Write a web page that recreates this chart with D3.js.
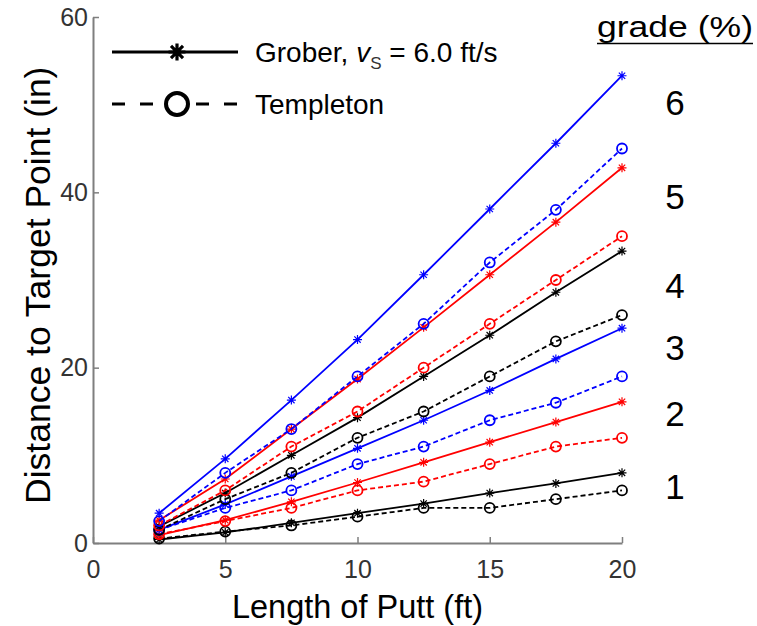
<!DOCTYPE html>
<html>
<head>
<meta charset="utf-8">
<script src="https://cdn.jsdelivr.net/npm/d3@7/dist/d3.min.js"></script>
<style>
  html, body { margin: 0; padding: 0; background: #fff; }
  svg { display: block; font-family: "Liberation Sans", Arial, sans-serif; }
</style>
</head>
<body>
<svg id="chart" width="757" height="626"></svg>
<script>
// Putt lengths (ft)
const puttLength = [2.5, 5, 7.5, 10, 12.5, 15, 17.5, 20];
const grades = [1, 2, 3, 4, 5, 6];

// Grober model, vs = 6.0 ft/s — distance to target point (in)
const grober1 = [0.4, 1.2, 2.3, 3.4, 4.5, 5.7, 6.8, 8.0];
const grober2 = [0.9, 2.6, 4.7, 6.9, 9.2, 11.5, 13.8, 16.1];
const grober3 = [1.5, 4.4, 7.6, 10.8, 14.0, 17.4, 21.0, 24.5];
const grober4 = [1.9, 5.7, 10.0, 14.3, 19.0, 23.7, 28.6, 33.3];
const grober5 = [2.6, 7.3, 13.0, 18.7, 24.6, 30.6, 36.6, 42.8];
const grober6 = [3.4, 9.6, 16.3, 23.2, 30.6, 38.1, 45.6, 53.3];

// Templeton table — distance to target point (in)
const templeton1 = [0.5, 1.3, 2, 3, 4, 4, 5, 6];
const templeton2 = [1, 2.5, 4, 6, 7, 9, 11, 12];
const templeton3 = [1.5, 4, 6, 9, 11, 14, 16, 19];
const templeton4 = [1.5, 5, 8, 12, 15, 19, 23, 26];
const templeton5 = [2, 6, 11, 15, 20, 25, 30, 35];
const templeton6 = [2.5, 8, 13, 19, 25, 32, 38, 45];

const gradeColors = ["#000000", "#ff0000", "#0000ff", "#000000", "#ff0000", "#0000ff"];

const xTicks = [0, 5, 10, 15, 20];
const yTicks = [0, 20, 40, 60];

const groberSeries = [grober1, grober2, grober3, grober4, grober5, grober6];
const templetonSeries = [templeton1, templeton2, templeton3, templeton4, templeton5, templeton6];

const svg = d3.select("#chart");
const margin = { left: 93, right: 135, top: 17, bottom: 83 };
const W = 757, H = 626;

const x = d3.scaleLinear().domain([0, 20]).range([margin.left, W - margin.right]);
const y = d3.scaleLinear().domain([0, 60]).range([H - margin.bottom, margin.top]);

const axisGray = "#7f7f7f";
const tickLen = 6;

// Axes: left and bottom only, ticks pointing inward
const xAxis = svg.append("g")
  .attr("transform", `translate(0,${y(0)})`)
  .call(d3.axisBottom(x).tickValues(xTicks).tickSizeInner(-tickLen).tickSizeOuter(0).tickPadding(17));
const yAxis = svg.append("g")
  .attr("transform", `translate(${x(0)},0)`)
  .call(d3.axisLeft(y).tickValues(yTicks).tickSizeInner(-tickLen).tickSizeOuter(0).tickPadding(5));

[xAxis, yAxis].forEach(g => {
  g.select(".domain").attr("stroke", axisGray).attr("stroke-width", 2);
  g.selectAll(".tick line").attr("stroke", axisGray).attr("stroke-width", 1.5);
  g.selectAll(".tick text")
    .attr("fill", "#333")
    .style("font-size", "25px")
    .style("font-family", "\"Liberation Sans\", Arial, sans-serif");
});
xAxis.selectAll(".tick text").attr("dy", "0.71em");

// Axis titles
svg.append("text")
  .attr("x", x(10))
  .attr("y", 618)
  .attr("text-anchor", "middle")
  .style("font-size", "32.5px")
  .text("Length of Putt (ft)");
svg.append("text")
  .attr("transform", `translate(50,${y(29.4)}) rotate(-90)`)
  .attr("text-anchor", "middle")
  .style("font-size", "35.5px")
  .text("Distance to Target Point (in)");

// Marker shapes
function starPath(r) {
  const d = r * Math.SQRT1_2;
  return `M${-r},0L${r},0M0,${-r}L0,${r}M${-d},${-d}L${d},${d}M${-d},${d}L${d},${-d}`;
}

const line = d3.line().x(d => x(d[0])).y(d => y(d[1]));
const plot = svg.append("g");

// Vertical level (in axis units) at which each grade number sits
const gradeLabelLevel = [6.4, 14.8, 22.3, 29.4, 39.5, 50.2];

grades.forEach((g, i) => {
  const color = gradeColors[i];
  const tPts = puttLength.map((p, j) => [p, templetonSeries[i][j]]);
  const gPts = puttLength.map((p, j) => [p, groberSeries[i][j]]);

  // Templeton: dashed with open circles
  plot.append("path")
    .attr("d", line(tPts))
    .attr("fill", "none")
    .attr("stroke", color)
    .attr("stroke-width", 1.8)
    .attr("stroke-dasharray", "5,3");
  plot.selectAll(null).data(tPts).enter().append("circle")
    .attr("cx", d => x(d[0]))
    .attr("cy", d => y(d[1]))
    .attr("r", 5)
    .attr("fill", "none")
    .attr("stroke", color)
    .attr("stroke-width", 1.8);

  // Grober: solid with asterisks
  plot.append("path")
    .attr("d", line(gPts))
    .attr("fill", "none")
    .attr("stroke", color)
    .attr("stroke-width", 1.8);
  plot.selectAll(null).data(gPts).enter().append("path")
    .attr("transform", d => `translate(${x(d[0])},${y(d[1])})`)
    .attr("d", starPath(4.5))
    .attr("fill", "none")
    .attr("stroke", color)
    .attr("stroke-width", 1.2);

  // Grade number beside the pair of curves
  svg.append("text")
    .attr("x", 675)
    .attr("y", y(gradeLabelLevel[i]))
    .attr("text-anchor", "middle")
    .attr("dominant-baseline", "central")
    .style("font-size", "35px")
    .text(g);
});

// Grade header, underlined
svg.append("text")
  .attr("x", 597)
  .attr("y", 37)
  .attr("textLength", 156)
  .attr("lengthAdjust", "spacingAndGlyphs")
  .style("font-size", "30px")
  .text("grade (%)");
svg.append("line")
  .attr("x1", 597).attr("x2", 753)
  .attr("y1", 43.5).attr("y2", 43.5)
  .attr("stroke", "#000").attr("stroke-width", 1.5);

// Legend
const legend = svg.append("g");
legend.append("line")
  .attr("x1", 112).attr("x2", 238).attr("y1", 52).attr("y2", 52)
  .attr("stroke", "#000").attr("stroke-width", 3);
legend.append("path")
  .attr("transform", "translate(177,52)")
  .attr("d", starPath(8.5))
  .attr("fill", "none").attr("stroke", "#000").attr("stroke-width", 3.2);
const gl = legend.append("text")
  .attr("x", 255).attr("y", 62)
  .style("font-size", "28px");
gl.append("tspan").text("Grober, ");
gl.append("tspan").style("font-style", "italic").text("v");
gl.append("tspan").attr("dy", 7).style("font-size", "17px").attr("fill", "#333").text("S");
gl.append("tspan").attr("dy", -7).text(" = 6.0 ft/s");

legend.append("line")
  .attr("x1", 112).attr("x2", 238).attr("y1", 104).attr("y2", 104)
  .attr("stroke", "#000").attr("stroke-width", 3)
  .attr("stroke-dasharray", "13,15");
legend.append("circle")
  .attr("cx", 177).attr("cy", 104).attr("r", 11)
  .attr("fill", "#fff").attr("stroke", "#000").attr("stroke-width", 4);
legend.append("text")
  .attr("x", 255).attr("y", 114)
  .style("font-size", "28px")
  .text("Templeton");
</script>
</body>
</html>
